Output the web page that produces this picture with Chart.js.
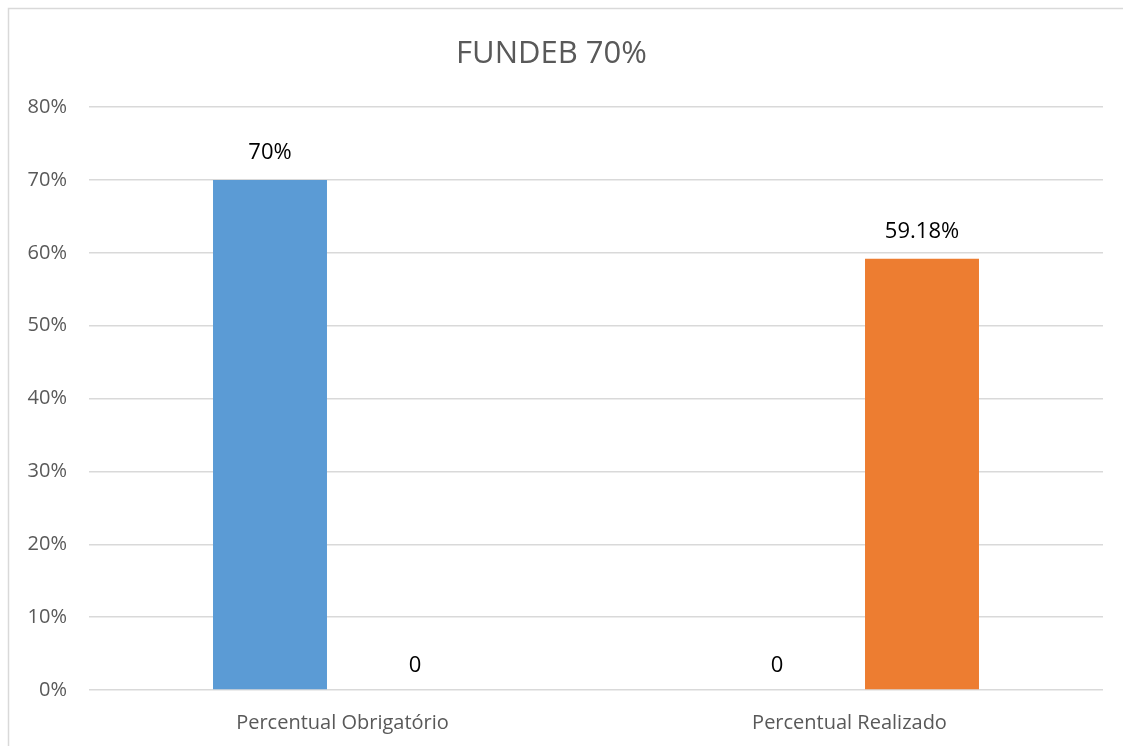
<!DOCTYPE html>
<html>
<head>
<meta charset="utf-8">
<script src="https://cdn.jsdelivr.net/npm/chart.js@4.4.1/dist/chart.umd.min.js"></script>
<style>
  html, body { margin: 0; padding: 0; background: #fff; overflow: hidden; }
  #wrap { width: 1123px; height: 746px; position: relative; }
</style>
</head>
<body>
<div id="wrap"><canvas id="myChartBar"></canvas></div>
<script>
const categories = ['Percentual Obrigatório', 'Percentual Realizado'];
const obrigatorio = [0.70, 0];
const realizado = [0, 0.5918];
const yTicks = [0, 0.1, 0.2, 0.3, 0.4, 0.5, 0.6, 0.7, 0.8];

const fontFamily = '"Open Sans", "Noto Sans", sans-serif';

function fmtLabel(v) {
  return v === 0 ? '0' : (+(v * 100).toFixed(2)) + '%';
}

// draws the value above each bar (no datalabels plugin available)
const valueLabels = {
  id: 'valueLabels',
  afterDatasetsDraw(chart) {
    const ctx = chart.ctx;
    ctx.save();
    ctx.font = '22px ' + fontFamily;
    ctx.fillStyle = '#000';
    ctx.textAlign = 'center';
    ctx.textBaseline = 'middle';
    chart.data.datasets.forEach((ds, i) => {
      chart.getDatasetMeta(i).data.forEach((bar, j) => {
        const v = ds.data[j];
        const off = v === 0 ? 24 : 27;
        ctx.fillText(fmtLabel(v), bar.x, bar.y - off);
      });
    });
    ctx.restore();
  }
};

// light frame round the chart, like the office chart area
const frame = {
  id: 'frame',
  beforeDraw(chart) {
    const ctx = chart.ctx;
    ctx.save();
    ctx.strokeStyle = '#d9d9d9';
    ctx.lineWidth = 1.5;
    ctx.beginPath();
    ctx.moveTo(8.5, chart.height);
    ctx.lineTo(8.5, 8.5);
    ctx.lineTo(chart.width, 8.5);
    ctx.stroke();
    ctx.restore();
  }
};

const data = {
  labels: categories,
  datasets: [
    {
      label: 'Percentual Obrigatório',
      data: obrigatorio,
      backgroundColor: '#5b9bd5',
      categoryPercentage: 0.572,
      barPercentage: 0.786
    },
    {
      label: 'Percentual Realizado',
      data: realizado,
      backgroundColor: '#ed7d31',
      categoryPercentage: 0.572,
      barPercentage: 0.786
    }
  ]
};

const config = {
  type: 'bar',
  data: data,
  plugins: [frame, valueLabels],
  options: {
    responsive: false,
    animation: false,
    layout: { padding: { left: 0, right: 20, top: 0, bottom: 0 } },
    plugins: {
      legend: { display: false },
      tooltip: { enabled: false },
      title: {
        display: true,
        text: 'FUNDEB 70%',
        color: '#595959',
        font: { family: fontFamily, size: 31, weight: 'normal' },
        padding: { top: 36, bottom: 34 }
      }
    },
    scales: {
      x: {
        afterFit(scale) { scale.height = 56; },
        grid: { display: false },
        border: { display: false },
        ticks: {
          color: '#595959',
          font: { family: fontFamily, size: 20 },
          padding: 13
        }
      },
      y: {
        min: 0,
        max: 0.8,
        afterFit(scale) { scale.width = 89; },
        afterBuildTicks(scale) { scale.ticks = yTicks.map(v => ({ value: v })); },
        grid: { color: '#d9d9d9', lineWidth: 1.5, drawTicks: false },
        border: { display: false },
        ticks: {
          color: '#595959',
          font: { family: fontFamily, size: 20 },
          padding: 22,
          callback: v => Math.round(v * 100) + '%'
        }
      }
    }
  }
};

const canvasElBar = document.getElementById('myChartBar');
canvasElBar.width = 1123;
canvasElBar.height = 746;
const barChart = new Chart(canvasElBar, config);
</script>
</body>
</html>
